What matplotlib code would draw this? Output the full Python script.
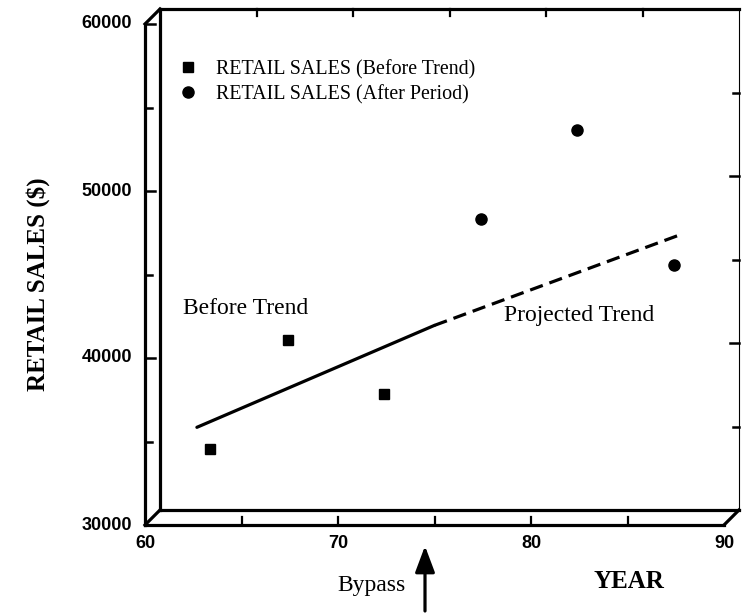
import matplotlib
matplotlib.use("Agg")
import matplotlib.pyplot as plt

# data
years_before = [63, 67, 72]
sales_before = [34100, 40600, 37400]
years_after = [77, 82, 87]
sales_after = [47900, 53200, 45100]
trend_years = [62.3, 74.6, 87.5]
trend_sales = [35400, 41500, 47000]

y_ticks = [30000, 40000, 50000, 60000]
x_ticks = [60, 70, 80, 90]

W, H = 742, 614
fig = plt.figure(figsize=(W / 100, H / 100), dpi=100)
fig.patch.set_facecolor('white')

# the axes area is the middle plane of the 3d-looking frame
x0, x1 = 152.5, 731.5
y0, y1 = 517.5, 16.5
ax = fig.add_axes([x0 / W, 1 - y0 / H, (x1 - x0) / W, (y0 - y1) / H])
ax.set_xlim(60, 90)
ax.set_ylim(30000, 60000)
ax.axis('off')

sx = (x1 - x0) / 30.0
sy = (y0 - y1) / 30000.0
depth = 7.5
dx, dy = depth / sx, depth / sy

frame = dict(color='black', lw=2.3, clip_on=False, solid_capstyle='projecting')

# front L
ax.plot([60 - dx, 60 - dx], [30000 - dy, 60000 - dy], **frame)
ax.plot([60 - dx, 90 - dx], [30000 - dy, 30000 - dy], **frame)
# back box
ax.plot([60 + dx, 60 + dx], [30000 + dy, 60000 + dy], **frame)
ax.plot([60 + dx, 90 + dx], [60000 + dy, 60000 + dy], **frame)
ax.plot([60 + dx, 90 + dx], [30000 + dy, 30000 + dy], **frame)
ax.plot([90 + dx, 90 + dx], [30000 + dy, 60000 + dy], color='black', lw=0.8, clip_on=False)
# depth edges
for cx, cy in [(60, 60000), (60, 30000), (90, 30000)]:
    ax.plot([cx - dx, cx + dx], [cy - dy, cy + dy], **frame)

# ticks
for v in range(30000, 60001, 5000):
    ln = 10 if v % 10000 == 0 else 7
    ax.plot([60 - dx, 60 - dx + ln / sx], [v - dy, v - dy], color='black', lw=1.8, clip_on=False)
for v in range(35000, 55001, 5000):
    ln = 9 if v % 10000 == 0 else 6
    ax.plot([90 + dx, 90 + dx - ln / sx], [v + dy, v + dy], color='black', lw=1.8, clip_on=False)
for yr in range(65, 86, 5):
    ax.plot([yr - dx, yr - dx], [30000 - dy, 30000 - dy + 8 / sy], color='black', lw=1.6, clip_on=False)
    ax.plot([yr + dx, yr + dx], [60000 + dy, 60000 + dy - 7 / sy], color='black', lw=1.6, clip_on=False)

tick_font = dict(family='Liberation Sans', fontweight='bold', fontsize=13)
for v in y_ticks:
    ax.text(60 - dx - 13 / sx, v - dy, str(v), ha='right', va='center', clip_on=False, **tick_font)
for yr in x_ticks:
    ax.text(yr - dx, 30000 - dy - 19 / sy, str(yr), ha='center', va='center', clip_on=False, **tick_font)

# data
sq, = ax.plot(years_before, sales_before, linestyle='none', marker='s', ms=7,
              color='black', clip_on=False, label='RETAIL SALES (Before Trend)')
ci, = ax.plot(years_after, sales_after, linestyle='none', marker='o', ms=8,
              color='black', clip_on=False, label='RETAIL SALES (After Period)')
ax.plot(trend_years[:2], trend_sales[:2], color='black', lw=2.3, solid_capstyle='round')
ax.plot(trend_years[1:], trend_sales[1:], color='black', lw=2.3, dashes=(4.2, 2.2))

serif = 'Liberation Serif'
ax.legend(handles=[sq, ci], loc='upper left', bbox_to_anchor=(179 / W, 1 - 60 / H),
          bbox_transform=fig.transFigure, frameon=False, borderpad=0, borderaxespad=0,
          handlelength=0.9, handletextpad=0.95, labelspacing=0.28,
          prop=dict(family=serif, size=14.4))

ax.text(61.6, 42500, 'Before Trend', ha='left', va='center', family=serif, fontsize=17)
ax.text(78.2, 42070, 'Projected Trend', ha='left', va='center', family=serif, fontsize=17)

fig.text(406 / W, 1 - 585 / H, 'Bypass', ha='right', va='center', family=serif, fontsize=17)
fig.text(593 / W, 1 - 582 / H, 'YEAR', ha='left', va='center', family=serif,
         fontsize=18, fontweight='bold')
fig.text(38 / W, 1 - 284 / H, 'RETAIL SALES ($)', ha='center', va='center', rotation=90,
         family=serif, fontsize=18, fontweight='bold')

ax.annotate('', xy=(425 / W, 1 - 546 / H), xytext=(425 / W, 1 - 611 / H),
            xycoords='figure fraction', textcoords='figure fraction',
            arrowprops=dict(arrowstyle='-|>,head_length=0.8,head_width=0.3',
                            mutation_scale=20, lw=2.3, color='black', shrinkA=0, shrinkB=0))

fig.savefig('out.png', dpi=100, facecolor='white')
